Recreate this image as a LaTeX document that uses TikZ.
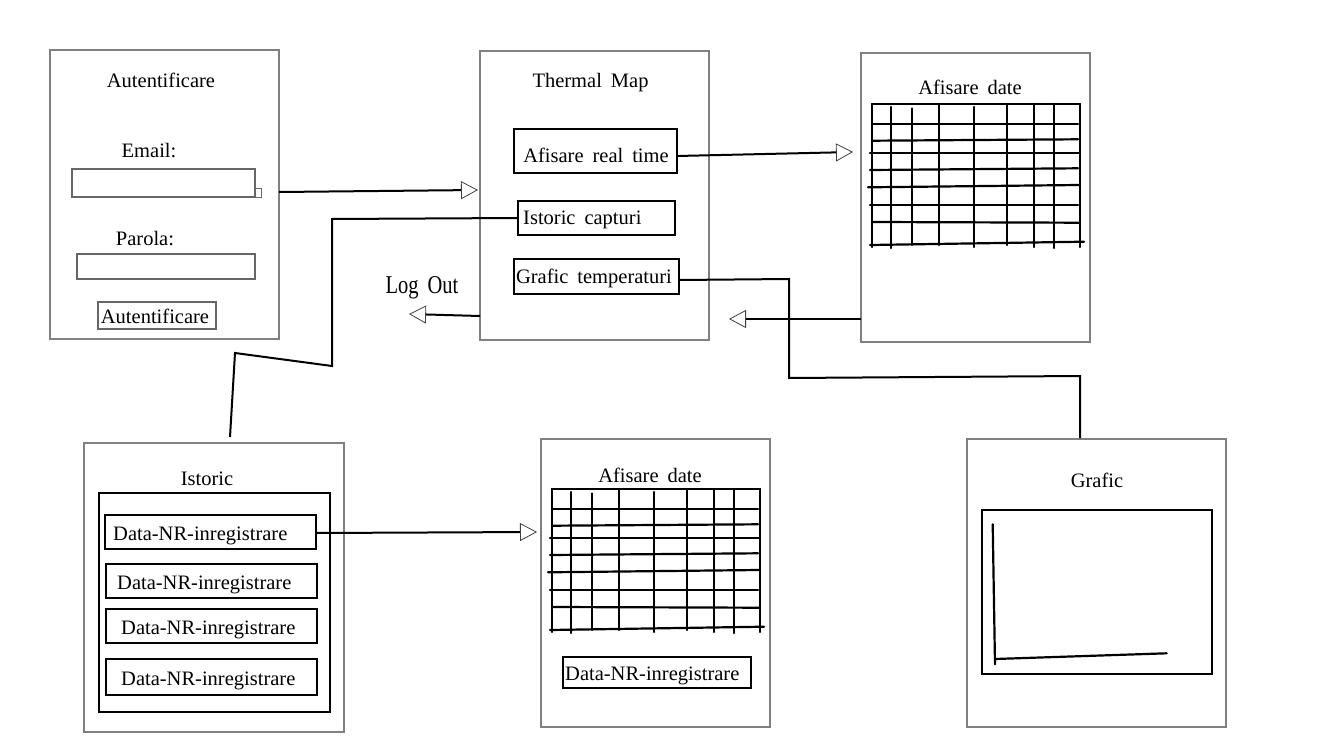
\documentclass[tikz,border=0pt]{standalone}
\usepackage{fontspec}
\setmainfont{Liberation Serif}[WordSpace=1.75]
\usepackage{graphicx}
\usetikzlibrary{arrows.meta}
\definecolor{boxgray}{HTML}{808080}
\definecolor{fieldgray}{HTML}{666666}
\tikzset{
  datagrid/.pic={
    \draw[gline] (0,0) -- (208,0);
    \foreach \x/\a/\b in {0/0/143, 19/3/144, 40/4.5/141, 67/0/141, 102/3/143, 135/0/141, 162/0/143, 182/0/144, 208/0/143}
      \draw[gline] (\x,\a) -- (\x,\b);
    \foreach \xa/\ya/\xb/\yb in {1/20/206/20, 1/36.7/206/35.3, -2/48.7/207/48.7, -2/66/206/64.3, -4/83.3/207/81, -2/101.3/206/101.3, 1/118/207/118.7, -2/141/212/137.7}
      \draw[gline] (\xa,\ya) -- (\xb,\yb);
  }
}
\begin{document}
\begin{tikzpicture}[x=1pt,y=-1pt,
  gbox/.style={draw=boxgray, line width=1.6pt, inner sep=0pt, outer sep=0pt},
  fbox/.style={draw=fieldgray, line width=1.3pt, inner sep=0pt, outer sep=0pt},
  kbox/.style={draw=black, line width=2pt, inner sep=0pt, outer sep=0pt},
  txt/.style={font=\fontsize{20.5}{24}\selectfont, inner sep=0pt, anchor=base},
  txtw/.style={txt, anchor=base west},
  conn/.style={draw=black, line width=2pt},
  oarrow/.style={-{Triangle[open, length=17pt, width=18pt, line width=0.8pt, color=black!75]}},
  gline/.style={line width=2.2pt, line cap=round}
]
\fill[white] (0,0) rectangle (1336,752);
\useasboundingbox (0,0) rectangle (1336,752);

% Autentificare
\node[gbox, minimum width=229, minimum height=289] (auth) at (164.5,194.5) {};
\node[txt] (authtitle) at (161,88) {Autentificare};
\node[txt] (emaillbl) at (149,157) {Email:};
\node[fbox, minimum width=183, minimum height=28] (efield) at (163.5,183) {};
\node[fbox, line width=1pt, minimum width=6, minimum height=9] (etab) at (258,192.5) {};
\node[txt] (parolalbl) at (145,245) {Parola:};
\node[fbox, minimum width=178, minimum height=25] (pfield) at (166,266.5) {};
\node[fbox, minimum width=118, minimum height=27] (btn) at (157,315.5) {};
\node[txt] (btntext) at (155,323) {Autentificare};

% Thermal Map
\node[gbox, minimum width=229, minimum height=289] (tm) at (594.5,195.5) {};
\node[txt] (tmtitle) at (590.5,88) {Thermal Map};
\node[kbox, minimum width=163, minimum height=44] (art) at (595.5,151) {};
\node[txt] (arttext) at (596,162) {Afisare real time};
\node[kbox, minimum width=157, minimum height=34] (ic) at (596.5,218) {};
\node[txtw] (ictext) at (523,224) {Istoric capturi};
\node[kbox, minimum width=165, minimum height=35] (gt) at (596.5,276.5) {};
\node[txt] (gttext) at (594,283) {Grafic temperaturi};

% Afisare date (top)
\node[gbox, minimum width=229, minimum height=289] (ad1) at (975.5,197.5) {};
\node[txt] (ad1title) at (970,95) {Afisare date};
\pic (grid1) at (872,104) {datagrid};

% Log Out
\node[txt] (logout) at (422,293) {\scalebox{1}[1.25]{Log Out}};
\coordinate (logoutpt) at (409,314);

% Istoric
\node[gbox, minimum width=260, minimum height=289] (ist) at (214,587.5) {};
\node[txt] (isttitle) at (207,485) {Istoric};
\node[kbox, minimum width=231, minimum height=219] (istin) at (214.5,602.5) {};
\node[kbox, minimum width=211, minimum height=34] (r1) at (210.5,532) {};
\node[txtw] (r1t) at (113,540) {Data-NR-inregistrare};
\node[kbox, minimum width=211, minimum height=34] (r2) at (211.5,581) {};
\node[txtw] (r2t) at (117,589) {Data-NR-inregistrare};
\node[kbox, minimum width=211, minimum height=34] (r3) at (211.5,626) {};
\node[txtw] (r3t) at (121,634) {Data-NR-inregistrare};
\node[kbox, minimum width=211, minimum height=36] (r4) at (211.5,677) {};
\node[txtw] (r4t) at (121,685) {Data-NR-inregistrare};

% Afisare date (bottom)
\node[gbox, minimum width=229, minimum height=288] (ad2) at (655.5,583) {};
\node[txt] (ad2title) at (650,482) {Afisare date};
\pic (grid2) at (552,489) {datagrid};
\node[kbox, line width=1.6pt, minimum width=188, minimum height=31] (ad2rec) at (657,672.5) {};
\node[txtw] (ad2rect) at (565,680) {Data-NR-inregistrare};

% Grafic
\node[gbox, minimum width=259, minimum height=288] (gr) at (1096.5,583) {};
\node[txt] (grtitle) at (1097,487) {Grafic};
\node[kbox, minimum width=230, minimum height=164] (grin) at (1097,592) {};
\draw[gline] (992.7,524.3) -- (995,664.3);
\draw[gline] (995,659) -- (1166.7,653.3);

% Connectors
\draw[conn, oarrow] ([yshift=2.5pt]auth.east) -- ([xshift=-2pt,yshift=5.5pt]tm.west);
\draw[conn, oarrow] ([yshift=-5pt]art.east) -- ([xshift=-8pt,yshift=45.5pt]ad1.west);
\draw[conn] (ic.west) -- (332,219) -- (332,366) -- (235,353) -- ([xshift=16pt,yshift=6pt]ist.north);
\draw[conn, oarrow] ([yshift=-120.5pt]tm.west) -- (logoutpt);
\draw[conn, oarrow] ([yshift=-121.5pt]ad1.west) -- ([xshift=20pt,yshift=-123.5pt]tm.east);
\draw[conn] ([yshift=-3.5pt]gt.east) -- (789,279) -- (789,378) -- (1080,376) -- ([xshift=-16.5pt,yshift=1pt]gr.north);
\draw[conn, oarrow] ([yshift=-1pt]r1.east) -- ([xshift=-4pt,yshift=51pt]ad2.west);
\end{tikzpicture}
\end{document}
